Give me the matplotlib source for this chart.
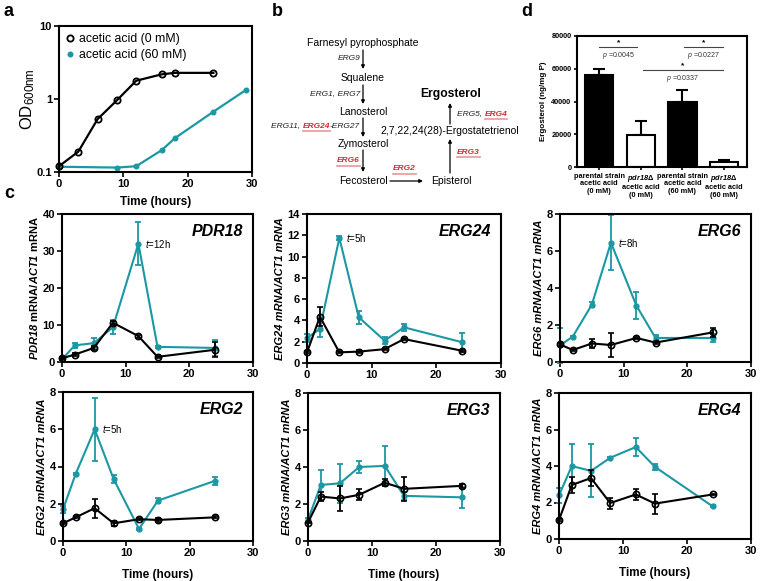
import matplotlib
matplotlib.use('Agg')
import matplotlib.pyplot as plt
from matplotlib.lines import Line2D
import numpy as np

plt.rcParams['font.family'] = ['Liberation Sans', 'DejaVu Sans']
plt.rcParams['mathtext.fontset'] = 'custom'
plt.rcParams['mathtext.rm'] = 'Liberation Sans'
plt.rcParams['mathtext.it'] = 'Liberation Sans:italic'
plt.rcParams['mathtext.bf'] = 'Liberation Sans:bold'
try:
    plt.rcParams['mathtext.bfit'] = 'Liberation Sans:italic:bold'
    BFIT = r'\mathbfit'
except KeyError:
    BFIT = r'\mathit'

TEAL = '#1b98a4'
RED = '#d42a2f'

# panel a: growth curves
growth_t_0mM = [0, 3, 6, 9, 12, 16, 18, 24]
growth_od_0mM = [0.12, 0.19, 0.53, 0.96, 1.78, 2.18, 2.28, 2.28]
growth_t_60mM = [0, 9, 12, 16, 18, 24, 29]
growth_od_60mM = [0.118, 0.115, 0.12, 0.2, 0.29, 0.67, 1.32]

# panel c: expression time courses
time_h = [0, 2, 5, 8, 12, 15, 24]
genes = ['PDR18', 'ERG24', 'ERG6', 'ERG2', 'ERG3', 'ERG4']
ctrl_mean = {
    'PDR18': [1.0, 2.0, 3.8, 10.6, 7.0, 1.4, 3.3],
    'ERG24': [1.0, 4.35, 1.0, 1.07, 1.3, 2.25, 1.15],
    'ERG6': [0.95, 0.65, 1.0, 0.92, 1.3, 1.05, 1.6],
    'ERG2': [0.95, 1.27, 1.76, 0.95, 1.17, 1.13, 1.27],
    'ERG3': [1.0, 2.4, 2.3, 2.5, 3.15, 2.82, 2.98],
    'ERG4': [1.04, 2.96, 3.34, 1.97, 2.44, 1.94, 2.44],
}
ctrl_err = {
    'PDR18': [0.3, 0.3, 0.5, 0.6, 0.4, 0.3, 2.0],
    'ERG24': [0.1, 0.9, 0.1, 0.15, 0.1, 0.1, 0.1],
    'ERG6': [0.1, 0.05, 0.25, 0.65, 0.05, 0.05, 0.25],
    'ERG2': [0.05, 0.05, 0.5, 0.15, 0.05, 0.1, 0.05],
    'ERG3': [0.05, 0.25, 0.7, 0.3, 0.2, 0.65, 0.1],
    'ERG4': [0.05, 0.45, 0.45, 0.3, 0.3, 0.55, 0.05],
}
acid_mean = {
    'PDR18': [0.7, 4.5, 5.1, 9.4, 32.0, 4.1, 3.8],
    'ERG24': [2.35, 3.2, 11.75, 4.3, 2.1, 3.35, 1.95],
    'ERG6': [0.9, 1.37, 3.1, 6.45, 3.05, 1.3, 1.3],
    'ERG2': [1.7, 3.6, 6.0, 3.32, 0.65, 2.17, 3.23],
    'ERG3': [1.15, 3.03, 3.12, 4.0, 4.06, 2.44, 2.36],
    'ERG4': [2.39, 4.0, 3.73, 4.45, 5.04, 3.95, 1.79],
}
acid_err = {
    'PDR18': [0.3, 0.6, 1.4, 1.9, 5.8, 0.2, 2.2],
    'ERG24': [0.4, 0.8, 0.15, 0.6, 0.3, 0.3, 0.9],
    'ERG6': [0.95, 0.05, 0.15, 1.5, 0.75, 0.15, 0.2],
    'ERG2': [0.2, 0.05, 1.7, 0.2, 0.05, 0.15, 0.2],
    'ERG3': [0.1, 0.8, 1.05, 0.3, 1.05, 0.2, 0.55],
    'ERG4': [0.4, 1.2, 1.45, 0.05, 0.5, 0.15, 0.05],
}
peak_labels = {'PDR18': (12, '12h'), 'ERG24': (5, '5h'), 'ERG6': (8, '8h'), 'ERG2': (5, '5h')}
y_limits = {'PDR18': (40, 10), 'ERG24': (14, 2), 'ERG6': (8, 2), 'ERG2': (8, 2), 'ERG3': (8, 2), 'ERG4': (8, 2)}

# panel d: ergosterol content
strains = ['parental strain\nacetic acid\n(0 mM)',
           '$' + BFIT + '{pdr18}$Δ\nacetic acid\n(0 mM)',
           'parental strain\nacetic acid\n(60 mM)',
           '$' + BFIT + '{pdr18}$Δ\nacetic acid\n(60 mM)']
ergosterol = [56100, 19400, 39800, 3100]
ergosterol_err = [3700, 8700, 7100, 1400]
bar_colors = ['black', 'white', 'black', 'white']
comparisons = [(0, 0.92, 73000, 'p =0.0045'), (2.04, 2.98, 73000, 'p =0.0227'), (1.05, 2.98, 59200, 'p =0.0337')]


def px_axes(fig, left, top, right, bottom):
    return fig.add_axes([left / 760, 1 - bottom / 581, (right - left) / 760, (bottom - top) / 581])


def style_axes(ax, size=8):
    for s in ax.spines.values():
        s.set_linewidth(1.5)
    ax.tick_params(direction='out', length=3.5, width=1.2, labelsize=size, pad=1.5)
    for lab in ax.get_xticklabels() + ax.get_yticklabels():
        lab.set_fontweight('bold')


def draw_growth(fig):
    ax = px_axes(fig, 59, 26, 252, 172)
    ax.plot(growth_t_0mM, growth_od_0mM, color='k', lw=1.6, marker='o', ms=4.5,
            mfc='none', mec='k', mew=1.3, clip_on=False, zorder=3)
    ax.plot(growth_t_60mM, growth_od_60mM, color=TEAL, lw=1.6, marker='o', ms=3.3,
            clip_on=False, zorder=2)
    ax.set_yscale('log')
    ax.set_ylim(0.1, 10)
    ax.set_xlim(0, 30)
    ax.set_yticks([0.1, 1, 10])
    ax.set_yticklabels(['0.1', '1', '10'])
    ax.yaxis.set_minor_locator(matplotlib.ticker.NullLocator())
    ax.set_xticks([0, 10, 20, 30])
    style_axes(ax)
    ax.set_ylabel(r'OD$_{\mathrm{600nm}}$', fontsize=12, labelpad=0)
    ax.set_xlabel('Time (hours)', fontsize=8.5, fontweight='bold', labelpad=5)
    handles = [Line2D([], [], ls='none', marker='o', ms=4.5, mfc='none', mec='k', mew=1.3),
               Line2D([], [], ls='none', marker='o', ms=3.3, color=TEAL)]
    ax.legend(handles, ['acetic acid (0 mM)', 'acetic acid (60 mM)'], loc='upper left',
              frameon=False, fontsize=8.8, handlelength=0.6, handletextpad=0.4,
              borderaxespad=0.2, labelspacing=0.3)


def draw_gene(fig, box, gene, bottom_row):
    ax = px_axes(fig, *box)
    ax.errorbar(time_h, ctrl_mean[gene], yerr=ctrl_err[gene], color='k', lw=1.5,
                marker='o', ms=4.5, mfc='none', mec='k', mew=1.2, capsize=2.5,
                elinewidth=1.3, capthick=1.3, clip_on=False, zorder=3)
    ax.errorbar(time_h, acid_mean[gene], yerr=acid_err[gene], color=TEAL, lw=1.5,
                marker='o', ms=3.5, capsize=2.5, elinewidth=1.3, capthick=1.3,
                clip_on=False, zorder=2)
    top, step = y_limits[gene]
    ax.set_ylim(0, top)
    ax.set_yticks(np.arange(0, top + 0.1, step))
    ax.set_xlim(0, 30)
    ax.set_xticks([0, 10, 20, 30])
    style_axes(ax)
    if gene == 'PDR18':
        ax.set_ylabel('$' + BFIT + '{PDR18}$ mRNA/$' + BFIT + '{ACT1}$ mRNA',
                      fontsize=8, fontweight='bold', labelpad=2)
    else:
        ax.set_ylabel(gene + ' mRNA/ACT1 mRNA', fontsize=8, fontweight='bold',
                      style='italic', labelpad=2)
    ax.text(0.95, 0.88, gene, transform=ax.transAxes, ha='right', va='center',
            fontsize=11.5, fontweight='bold', style='italic')
    if gene in peak_labels:
        tx, lab = peak_labels[gene]
        i = time_h.index(tx)
        ax.annotate('$t$=' + lab, (tx, acid_mean[gene][i]), xytext=(5, 0),
                    textcoords='offset points', va='center', fontsize=7)
    if bottom_row:
        ax.set_xlabel('Time (hours)', fontsize=8.5, fontweight='bold', labelpad=8)


def draw_bars(fig):
    ax = px_axes(fig, 577, 36, 747, 167)
    x = np.arange(len(strains))
    ax.bar(x, ergosterol, width=0.68, color=bar_colors, edgecolor='k', lw=1.5, zorder=2)
    ax.errorbar(x, ergosterol, yerr=[np.zeros(len(x)), ergosterol_err], fmt='none',
                ecolor='k', elinewidth=1.5, capsize=4, capthick=1.5, zorder=1)
    ax.set_xlim(-0.53, 3.55)
    ax.set_ylim(0, 80000)
    ax.set_yticks([0, 20000, 40000, 60000, 80000])
    ax.set_xticks(x)
    ax.set_xticklabels(strains, fontsize=5.3, fontweight='bold', linespacing=1.1)
    style_axes(ax, size=5.3)
    ax.tick_params(length=2.5)
    ax.set_ylabel('Ergosterol (ng/mg P)', fontsize=5.8, fontweight='bold', labelpad=3)
    for x1, x2, y, p in comparisons:
        ax.plot([x1, x2], [y, y], color='#444444', lw=0.8)
        mid = (x1 + x2) / 2
        ax.text(mid, y + 500, '*', ha='center', va='bottom', fontsize=6, fontweight='bold')
        ax.text(mid, y - 1500, '$p$' + p[1:], ha='center', va='top', fontsize=5, color='#333333')


def pieces_text(ax, renderer, x, y, pieces, ha='left', size=6):
    texts = []
    widths = []
    for s, red in pieces:
        t = ax.text(0, y, s, fontsize=size, style='italic', color=RED if red else '#222222',
                    ha='left', va='center', fontweight='bold' if red else 'normal')
        texts.append(t)
        widths.append(t.get_window_extent(renderer).width)
    x0 = x - sum(widths) if ha == 'right' else x
    for t, w, (s, red) in zip(texts, widths, pieces):
        t.set_x(x0)
        if red:
            ax.plot([x0, x0 + w], [y + 5, y + 5], color=RED, lw=1.3, alpha=0.45)
        x0 += w


def arrow(ax, x0, y0, x1, y1):
    ax.annotate('', xy=(x1, y1), xytext=(x0, y0),
                arrowprops=dict(arrowstyle='-|>', lw=0.9, color='k', mutation_scale=5,
                                shrinkA=0, shrinkB=0))


def draw_pathway(ax, renderer):
    fs = 7.5
    for name, x, y in [('Farnesyl pyrophosphate', 363, 43), ('Squalene', 363, 78),
                       ('Lanosterol', 363, 112), ('Zymosterol', 363, 144),
                       ('Fecosterol', 363, 181), ('Episterol', 451, 181),
                       ('2,7,22,24(28)-Ergostatetrienol', 450, 131)]:
        ax.text(x, y, name, ha='center', va='center', fontsize=fs)
    ax.text(451, 94, 'Ergosterol', ha='center', va='center', fontsize=8.7, fontweight='bold')
    arrow(ax, 363, 50, 363, 69)
    arrow(ax, 363, 85, 363, 104)
    arrow(ax, 363, 118, 363, 137)
    arrow(ax, 363, 150, 363, 172)
    arrow(ax, 390, 181, 423, 181)
    arrow(ax, 450, 173, 450, 139)
    arrow(ax, 450, 124, 450, 103)
    pieces_text(ax, renderer, 360, 59, [('ERG9', False)], ha='right')
    pieces_text(ax, renderer, 360, 94, [('ERG1, ERG7', False)], ha='right')
    pieces_text(ax, renderer, 360, 126, [('ERG11, ', False), ('ERG24', True), ('-ERG27', False)], ha='right')
    pieces_text(ax, renderer, 360, 161, [('ERG6', True)], ha='right')
    pieces_text(ax, renderer, 393, 169, [('ERG2', True)])
    pieces_text(ax, renderer, 457, 152, [('ERG3', True)])
    pieces_text(ax, renderer, 457, 114, [('ERG5, ', False), ('ERG4', True)])


def main():
    fig = plt.figure(figsize=(7.6, 5.81), dpi=100)
    draw_growth(fig)
    draw_bars(fig)
    boxes = [(62, 214, 253, 362), (307, 214, 501, 363), (560, 214, 751, 362),
             (63, 392, 253, 541), (308, 393, 500, 541), (559, 393, 751, 539)]
    for i, (gene, box) in enumerate(zip(genes, boxes)):
        draw_gene(fig, box, gene, i >= 3)

    over = fig.add_axes([0, 0, 1, 1])
    over.set_xlim(0, 760)
    over.set_ylim(581, 0)
    over.axis('off')
    renderer = fig.canvas.get_renderer()
    draw_pathway(over, renderer)
    for letter, x, y in [('a', 4, 11), ('b', 272, 11), ('c', 4, 193), ('d', 521, 11)]:
        over.text(x, y, letter, fontsize=13, fontweight='bold', va='center', ha='left')

    fig.savefig('out.png', dpi=100)


if __name__ == '__main__':
    main()
